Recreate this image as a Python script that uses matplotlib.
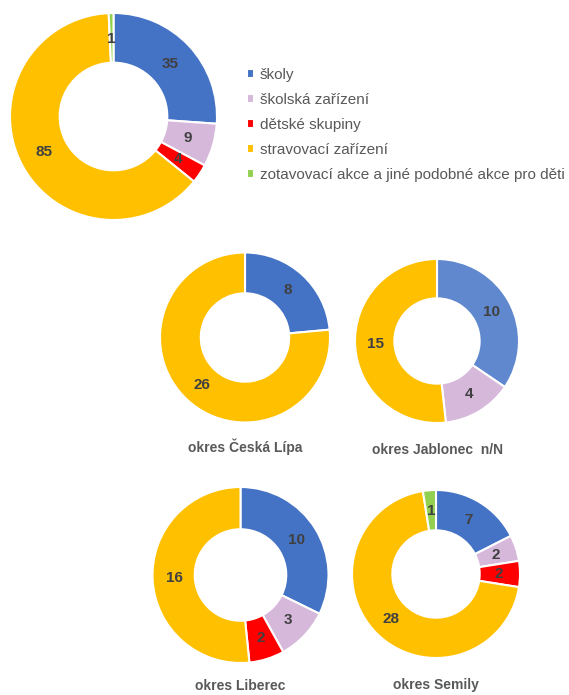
import matplotlib.pyplot as plt

plt.rcParams['font.family'] = ['Liberation Sans', 'DejaVu Sans']

categories = ['školy', 'školská zařízení', 'dětské skupiny',
              'stravovací zařízení', 'zotavovací akce a jiné podobné akce pro děti']
colors = ['#4472C4', '#D5B8DA', '#FF0000', '#FFC000', '#92D050']

kraj = [35, 9, 4, 85, 1]
ceska_lipa = [8, 0, 0, 26, 0]
jablonec = [10, 4, 0, 15, 0]
liberec = [10, 3, 2, 16, 0]
semily = [7, 2, 2, 28, 1]

W, H = 569, 695
fig = plt.figure(figsize=(W / 100, H / 100), dpi=100)


def donut(values, cx, cy, r, title=None, title_y=None, cols=colors):
    ax = fig.add_axes([(cx - r) / W, (H - cy - r) / H, 2 * r / W, 2 * r / H])
    vals = [v for v in values if v > 0]
    cc = [c for v, c in zip(values, cols) if v > 0]
    wedges, _, texts = ax.pie(vals, colors=cc, startangle=90, counterclock=False,
                              autopct=lambda p: f'{p * sum(vals) / 100:.0f}',
                              pctdistance=0.75,
                              wedgeprops=dict(width=0.48, edgecolor='white', linewidth=1.5),
                              textprops=dict(color='#404040', fontsize=11, fontweight='bold'))
    ax.set_xlim(-1, 1)
    ax.set_ylim(-1, 1)
    ax.set_aspect('equal')
    if title:
        fig.text(cx / W, 1 - title_y / H, title, ha='center', va='center',
                 fontsize=10, fontweight='bold', color='#595959')
    return wedges


wedges = donut(kraj, 113.5, 116.5, 103.5)
donut(ceska_lipa, 245, 337.5, 85, 'okres Česká Lípa', 447)
donut(jablonec, 437, 341, 82, 'okres Jablonec  n/N', 450,
      cols=['#5F88CE'] + colors[1:])
donut(liberec, 240.5, 575, 88, 'okres Liberec', 686)
donut(semily, 436, 574, 84, 'okres Semily', 685)

fig.legend(wedges, categories, loc='upper left',
           bbox_to_anchor=(247 / W, 1 - 68 / H), frameon=False,
           fontsize=11, labelcolor='#595959', handlelength=0.45, handleheight=0.45,
           handletextpad=0.4, labelspacing=0.72, borderpad=0, borderaxespad=0)

fig.savefig('out.png', dpi=100)
